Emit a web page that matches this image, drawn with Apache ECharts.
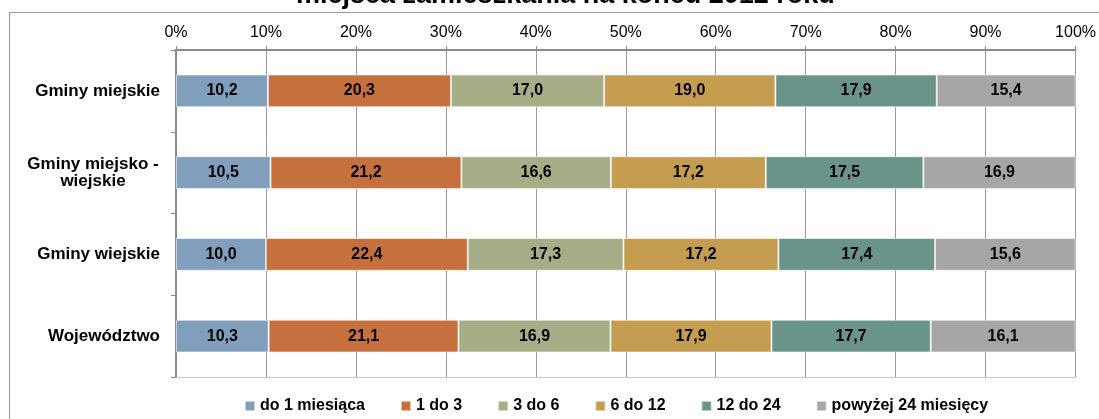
<!DOCTYPE html>
<html>
<head>
<meta charset="utf-8">
<script src="https://cdn.jsdelivr.net/npm/echarts@6/dist/echarts.min.js"></script>
<style>
html,body{margin:0;padding:0;background:#fff;}
#chart{width:1099px;height:419px;}
</style>
</head>
<body>
<div id="chart"></div>
<script>
const categories = ['Gminy miejskie', 'Gminy miejsko -\nwiejskie', 'Gminy wiejskie', 'Województwo'];
const seriesNames = ['do 1 miesiąca', '1 do 3', '3 do 6', '6 do 12', '12 do 24', 'powyżej 24 miesięcy'];
const do1 = [10.2, 10.5, 10.0, 10.3];
const od1do3 = [20.3, 21.2, 22.4, 21.1];
const od3do6 = [17.0, 16.6, 17.3, 16.9];
const od6do12 = [19.0, 17.2, 17.2, 17.9];
const od12do24 = [17.9, 17.5, 17.4, 17.7];
const powyzej24 = [15.4, 16.9, 15.6, 16.1];
const xTicks = [0, 10, 20, 30, 40, 50, 60, 70, 80, 90, 100];

const colors = ['#819FBD', '#C6703E', '#A5AE86', '#C49D51', '#6A9389', '#A6A6A6'];
const raw = [do1, od1do3, od3do6, od6do12, od12do24, powyzej24];
const totals = categories.map((c, i) => raw.reduce((s, arr) => s + arr[i], 0));
const FONT = "'Liberation Sans', Arial, sans-serif";

const series = raw.map((arr, si) => ({
  name: seriesNames[si],
  type: 'bar',
  stack: 'total',
  barWidth: '40%',
  data: arr.map((v, i) => ({ value: v / totals[i] * 100, raw: v })),
  itemStyle: { color: colors[si], borderColor: 'rgba(255,255,255,0.55)', borderWidth: 1 },
  label: {
    show: true,
    position: 'inside',
    fontFamily: FONT,
    fontWeight: 'bold',
    fontSize: 16,
    color: '#000',
    formatter: p => p.data.raw.toFixed(1).replace('.', ',')
  },
  emphasis: { disabled: true }
}));

const chart = echarts.init(document.getElementById('chart'));
chart.setOption({
  animation: false,
  color: colors,
  title: {
    text: 'miejsca zamieszkania na końcu 2012 roku',
    left: 291,
    top: -23,
    textStyle: { fontFamily: FONT, fontWeight: 'bold', fontSize: 27, color: '#000', lineHeight: 27 }
  },
  graphic: [{
    type: 'rect',
    shape: { x: 9.5, y: 12.5, width: 1200, height: 600 },
    style: { fill: 'none', stroke: '#9a9a9a', lineWidth: 1 },
    silent: true,
    z: -10
  }],
  grid: { left: 176, right: 23, top: 50, bottom: 42, containLabel: false },
  legend: {
    left: 239,
    top: 393,
    icon: 'rect',
    itemWidth: 10,
    itemHeight: 10,
    itemGap: 35,
    textStyle: { fontFamily: FONT, fontWeight: 'bold', fontSize: 16, color: '#000' },
    data: seriesNames
  },
  xAxis: [{
    type: 'value',
    position: 'top',
    min: xTicks[0],
    max: xTicks[xTicks.length - 1],
    interval: xTicks[1] - xTicks[0],
    axisLine: { show: true, lineStyle: { color: '#8a8a8a', width: 2 } },
    axisTick: { show: true, length: 4, lineStyle: { color: '#8a8a8a' } },
    axisLabel: { fontFamily: FONT, fontSize: 16, color: '#000', margin: 9, formatter: '{value}%' },
    splitLine: { show: true, lineStyle: { color: '#9a9a9a', width: 1 } }
  }, {
    type: 'value',
    position: 'bottom',
    min: 0, max: 100,
    axisLine: { show: true, lineStyle: { color: '#c8c8c8', width: 1 } },
    axisTick: { show: false },
    axisLabel: { show: false },
    splitLine: { show: false }
  }],
  yAxis: [{
    type: 'category',
    inverse: true,
    data: categories,
    axisLine: { show: true, lineStyle: { color: '#8a8a8a', width: 2 } },
    axisTick: { show: true, length: 5, lineStyle: { color: '#8a8a8a' } },
    axisLabel: {
      fontFamily: FONT, fontWeight: 'bold', fontSize: 17, color: '#000', margin: 16,
      formatter: v => v.indexOf('\n') >= 0 ? v.split('\n').map(s => '{c|' + s + '}').join('\n') : v,
      rich: { c: { width: 134, align: 'center', fontFamily: FONT, fontWeight: 'bold', fontSize: 17, color: '#000', lineHeight: 17 } }
    },
    splitLine: { show: false }
  }, {
    type: 'category',
    inverse: true,
    position: 'right',
    data: categories,
    axisLine: { show: true, lineStyle: { color: '#8a8a8a', width: 2 } },
    axisTick: { show: false },
    axisLabel: { show: false },
    splitLine: { show: false }
  }],
  series: series
});
</script>
</body>
</html>
